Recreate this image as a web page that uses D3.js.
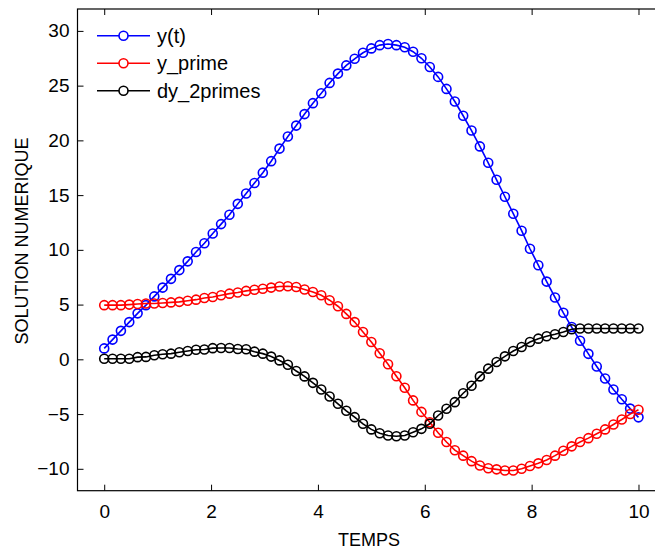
<!DOCTYPE html>
<html>
<head>
<meta charset="utf-8">
<script src="https://cdn.jsdelivr.net/npm/d3@7"></script>
<style>
  body { margin: 0; background: #fff; }
  text { font-family: "Liberation Sans", Arial, Helvetica, sans-serif; }
</style>
</head>
<body>
<div id="chart"></div>
<script>
// time steps (65 points from 0 to 10)
var temps = [0, 0.15625, 0.3125, 0.46875, 0.625, 0.78125, 0.9375, 1.09375, 1.25, 1.40625,
    1.5625, 1.71875, 1.875, 2.03125, 2.1875, 2.34375, 2.5, 2.65625, 2.8125, 2.96875,
    3.125, 3.28125, 3.4375, 3.59375, 3.75, 3.90625, 4.0625, 4.21875, 4.375, 4.53125,
    4.6875, 4.84375, 5, 5.15625, 5.3125, 5.46875, 5.625, 5.78125, 5.9375, 6.09375,
    6.25, 6.40625, 6.5625, 6.71875, 6.875, 7.03125, 7.1875, 7.34375, 7.5, 7.65625,
    7.8125, 7.96875, 8.125, 8.28125, 8.4375, 8.59375, 8.75, 8.90625, 9.0625, 9.21875,
    9.375, 9.53125, 9.6875, 9.84375, 10];

// y(t)
var yValues = [1.0, 1.8, 2.6, 3.4, 4.2, 4.95, 5.75, 6.55, 7.35, 8.15,
    8.95, 9.8, 10.6, 11.5, 12.35, 13.2, 14.2, 15.15, 16.1, 17.05,
    18.1, 19.25, 20.35, 21.35, 22.4, 23.4, 24.3, 25.25, 26.1, 26.85,
    27.45, 28.0, 28.4, 28.7, 28.8, 28.7, 28.5, 28.1, 27.5, 26.7,
    25.8, 24.7, 23.55, 22.25, 20.9, 19.45, 17.95, 16.4, 14.85, 13.3,
    11.75, 10.1, 8.6, 7.1, 5.65, 4.25, 2.95, 1.7, 0.5, -0.65,
    -1.75, -2.75, -3.65, -4.5, -5.3];

// y_prime
var yPrime = [4.95, 4.95, 4.95, 5.0, 5.05, 5.1, 5.1, 5.15, 5.2, 5.25,
    5.35, 5.45, 5.6, 5.7, 5.85, 6.0, 6.1, 6.25, 6.35, 6.45,
    6.55, 6.65, 6.68, 6.6, 6.38, 6.15, 5.85, 5.4, 4.85, 4.15,
    3.4, 2.5, 1.58, 0.55, -0.45, -1.55, -2.6, -3.75, -4.8, -5.75,
    -6.7, -7.55, -8.3, -8.8, -9.3, -9.7, -9.95, -10.05, -10.15, -10.15,
    -10.0, -9.75, -9.5, -9.2, -8.8, -8.35, -7.95, -7.55, -7.2, -6.8,
    -6.4, -5.95, -5.5, -5.0, -4.6];

// dy_2primes
var y2Primes = [0.05, 0.05, 0.05, 0.05, 0.2, 0.22, 0.37, 0.46, 0.52, 0.64,
    0.76, 0.88, 0.9, 1.02, 1.04, 1.04, 0.95, 0.92, 0.7, 0.52,
    0.25, -0.1, -0.5, -1.07, -1.56, -2.15, -2.75, -3.4, -4.06, -4.7,
    -5.28, -5.89, -6.4, -6.75, -6.96, -7.02, -6.96, -6.66, -6.35, -5.89,
    -5.13, -4.52, -3.91, -3.1, -2.42, -1.56, -0.85, -0.24, 0.27, 0.76,
    1.13, 1.58, 1.89, 2.11, 2.29, 2.5, 2.75, 2.82, 2.82, 2.82,
    2.82, 2.82, 2.82, 2.82, 2.82];

var seriesNames = ["y(t)", "y_prime", "dy_2primes"];
var seriesColors = ["#0000ff", "#ff0000", "#000000"];
var xTicks = [0, 2, 4, 6, 8, 10];
var yTicks = [-10, -5, 0, 5, 10, 15, 20, 25, 30];

var svgWidth = 655;
var svgHeight = 550;

// plot box (right side runs off the window like in the picture)
var box = { left: 77.5, top: 9, right: 665.2, bottom: 490.7 };

var svg = d3.select("#chart")
    .append("svg")
    .attr("width", svgWidth)
    .attr("height", svgHeight);

var xScale = d3.scaleLinear()
    .domain([-0.5, 10.5])
    .range([box.left, box.right]);

var yScale = d3.scaleLinear()
    .domain([-12, 32])
    .range([box.bottom, box.top]);

// axes, ticks pointing inside, mirrored on top
var tickLen = 6;

svg.append("g")
    .attr("transform", `translate(0, ${box.bottom})`)
    .call(d3.axisBottom(xScale).tickValues(xTicks).tickSize(-tickLen).tickPadding(14).tickFormat(d3.format("d")))
    .call(g => g.select(".domain").remove());

svg.append("g")
    .attr("transform", `translate(0, ${box.top})`)
    .call(d3.axisTop(xScale).tickValues(xTicks).tickSize(-tickLen).tickFormat(""))
    .call(g => g.select(".domain").remove());

svg.append("g")
    .attr("transform", `translate(${box.left}, 0)`)
    .call(d3.axisLeft(yScale).tickValues(yTicks).tickSize(-tickLen).tickPadding(8).tickFormat(d3.format("d")))
    .call(g => g.select(".domain").remove());

svg.selectAll(".tick text")
    .attr("font-size", "19px")
    .attr("fill", "#000")
    .attr("font-family", "'Liberation Sans', Arial, Helvetica, sans-serif");
svg.selectAll(".tick line").attr("stroke", "#000");

// box outline
svg.append("rect")
    .attr("x", box.left)
    .attr("y", box.top)
    .attr("width", box.right - box.left)
    .attr("height", box.bottom - box.top)
    .attr("fill", "none")
    .attr("stroke", "#000")
    .attr("stroke-width", 1.2);

// axis labels
svg.append("text")
    .attr("x", 369)
    .attr("y", 546)
    .attr("text-anchor", "middle")
    .attr("font-size", "18px")
    .text("TEMPS");

svg.append("text")
    .attr("transform", "translate(28, 241) rotate(-90)")
    .attr("text-anchor", "middle")
    .attr("font-size", "18px")
    .text("SOLUTION NUMERIQUE");

// lines + circle markers
var allSeries = [yValues, yPrime, y2Primes];

var line = d3.line()
    .x((d, i) => xScale(temps[i]))
    .y(d => yScale(d));

allSeries.forEach(function(values, k) {
    var g = svg.append("g");
    g.append("path")
        .datum(values)
        .attr("d", line)
        .attr("fill", "none")
        .attr("stroke", seriesColors[k])
        .attr("stroke-width", 1.6);
    g.selectAll("circle")
        .data(values)
        .enter()
        .append("circle")
        .attr("cx", (d, i) => xScale(temps[i]))
        .attr("cy", d => yScale(d))
        .attr("r", 4.5)
        .attr("fill", "none")
        .attr("stroke", seriesColors[k])
        .attr("stroke-width", 1.6);
});

// legend (no box)
var legend = svg.append("g");
seriesNames.forEach(function(name, k) {
    var ly = 35.7 + k * 27.5;
    legend.append("line")
        .attr("x1", 97).attr("x2", 150)
        .attr("y1", ly).attr("y2", ly)
        .attr("stroke", seriesColors[k])
        .attr("stroke-width", 1.6);
    legend.append("circle")
        .attr("cx", 123.5).attr("cy", ly)
        .attr("r", 4.5)
        .attr("fill", "#fff")
        .attr("stroke", seriesColors[k])
        .attr("stroke-width", 1.6);
    legend.append("text")
        .attr("x", 157)
        .attr("y", ly)
        .attr("dy", "0.35em")
        .attr("font-size", "20px")
        .text(name);
});
</script>
</body>
</html>
